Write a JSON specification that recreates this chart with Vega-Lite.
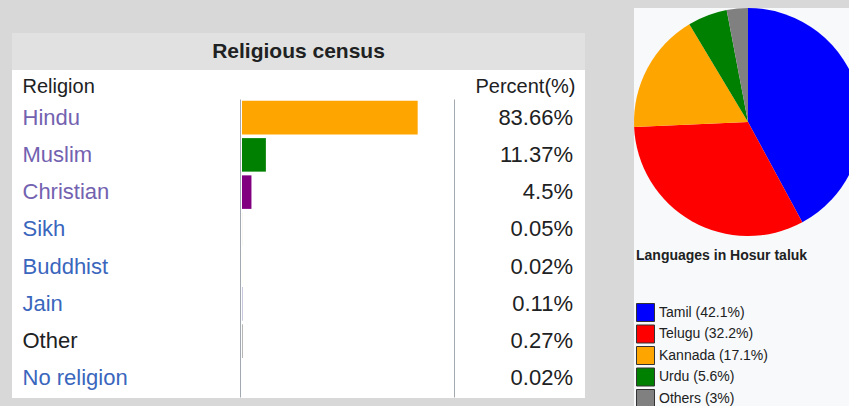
{
  "$schema": "https://vega.github.io/schema/vega-lite/v6.json",
  "background": "#d8d8d8",
  "padding": {"left": 12, "top": 8, "right": -13, "bottom": 0},
  "config": {"font": "Liberation Sans", "view": {"stroke": null}},
  "datasets": {
    "religion": [
      {"religion": "Hindu", "share": 0.8366},
      {"religion": "Muslim", "share": 0.1137},
      {"religion": "Christian", "share": 0.045},
      {"religion": "Sikh", "share": 0.0005},
      {"religion": "Buddhist", "share": 0.0002},
      {"religion": "Jain", "share": 0.0011},
      {"religion": "Other", "share": 0.0027},
      {"religion": "No religion", "share": 0.0002}
    ],
    "langs": [
      {"language": "Tamil", "pct": 42.1, "label": "Tamil (42.1%)"},
      {"language": "Telugu", "pct": 32.2, "label": "Telugu (32.2%)"},
      {"language": "Kannada", "pct": 17.1, "label": "Kannada (17.1%)"},
      {"language": "Urdu", "pct": 5.6, "label": "Urdu (5.6%)"},
      {"language": "Others", "pct": 3, "label": "Others (3%)"}
    ],
    "caption": [{"text": "Religious census"}]
  },
  "spacing": 49,
  "resolve": {
    "scale": {"color": "independent"},
    "legend": {"color": "independent"}
  },
  "hconcat": [
    {
      "vconcat": [
        {
          "width": 573,
          "height": 25,
          "data": {"values": []},
          "mark": "text"
        },
        {
          "width": 573,
          "height": 37,
          "view": {"fill": "#e1e1e1"},
          "data": {"name": "caption"},
          "mark": {"type": "text", "fontSize": 21, "fontWeight": "bold", "color": "#202122"},
          "encoding": {"text": {"field": "text"}}
        },
        {
          "width": 573,
          "height": 328,
          "view": {"fill": "#ffffff"},
          "data": {"name": "religion"},
          "layer": [
            {
              "mark": {"type": "bar"},
              "encoding": {
                "y": {
                  "field": "religion",
                  "type": "nominal",
                  "sort": null,
                  "scale": {"range": [29, 327], "paddingInner": 0.1, "paddingOuter": 0.05},
                  "axis": {
                    "orient": "left",
                    "offset": -228,
                    "grid": false,
                    "domainColor": "#a2a9b1",
                    "domainWidth": 1,
                    "ticks": false,
                    "tickSize": 0,
                    "labelPadding": 218,
                    "labelAlign": "left",
                    "labelBaseline": "middle",
                    "labelFontSize": 22,
                    "labelLimit": 0,
                    "labelColor": {"expr": "datum.value == 'Other' ? '#202122' : (indexof(['Hindu','Muslim','Christian'], datum.value) >= 0 ? '#7362b0' : '#3a66bd')"},
                    "title": "Religion",
                    "titleAngle": 0,
                    "titleAlign": "left",
                    "titleBaseline": "middle",
                    "titleX": -218,
                    "titleY": 16,
                    "titleFontSize": 20,
                    "titleFontWeight": "normal",
                    "titleColor": "#202122"
                  }
                },
                "x": {
                  "field": "share",
                  "type": "quantitative",
                  "scale": {"domain": [0, 1], "range": [230, 440]},
                  "axis": null
                },
                "color": {
                  "field": "religion",
                  "type": "nominal",
                  "sort": null,
                  "scale": {"range": ["#ffa500", "#008000", "#800080", "#bdb76b", "#ffd700", "#191970", "#808080", "#ffffff"]},
                  "legend": null
                }
              }
            },
            {
              "mark": {"type": "text", "align": "right", "baseline": "middle", "dx": -12, "fontSize": 22, "color": "#202122"},
              "encoding": {
                "y": {
                  "field": "religion",
                  "type": "nominal",
                  "sort": null,
                  "axis": {
                    "orient": "right",
                    "offset": -131,
                    "grid": false,
                    "domainColor": "#a2a9b1",
                    "domainWidth": 1,
                    "ticks": false,
                    "labels": false,
                    "title": "Percent(%)",
                    "titleAngle": 0,
                    "titleAlign": "right",
                    "titleBaseline": "middle",
                    "titleX": 121,
                    "titleY": 16,
                    "titleFontSize": 20,
                    "titleFontWeight": "normal",
                    "titleColor": "#202122"
                  }
                },
                "x": {"value": "width"},
                "text": {"field": "share", "type": "quantitative", "format": "~%"}
              }
            }
          ],
          "resolve": {"axis": {"y": "independent"}}
        }
      ],
      "spacing": 0,
      "bounds": "flush"
    },
    {
      "vconcat": [
        {
          "width": 228,
          "height": 228,
          "view": {"fill": "#f8f9fa"},
          "data": {"name": "langs"},
          "mark": {"type": "arc", "outerRadius": 114},
          "encoding": {
            "theta": {"field": "pct", "type": "quantitative", "stack": true},
            "order": {"field": "pct", "sort": "descending"},
            "color": {
              "field": "language",
              "type": "nominal",
              "sort": null,
              "scale": {"range": ["#0000ff", "#ff0000", "#ffa500", "#008000", "#808080"]},
              "legend": null
            }
          }
        },
        {
          "width": 228,
          "height": 170,
          "view": {"fill": "#f8f9fa"},
          "data": {"name": "langs"},
          "mark": {"type": "square", "opacity": 0},
          "encoding": {
            "color": {
              "field": "label",
              "type": "nominal",
              "sort": null,
              "scale": {"range": ["#0000ff", "#ff0000", "#ffa500", "#008000", "#808080"]},
              "legend": {
                "orient": "none",
                "legendX": 2,
                "legendY": 13,
                "direction": "vertical",
                "padding": 0,
                "title": "Languages in Hosur taluk",
                "titleFontSize": 14,
                "titleFontWeight": "bold",
                "titleColor": "#202122",
                "titleBaseline": "top",
                "titlePadding": 40,
                "titleLimit": 400,
                "symbolType": "square",
                "symbolSize": 324,
                "symbolOpacity": 1,
                "symbolStrokeColor": "#333333",
                "symbolStrokeWidth": 1,
                "labelFontSize": 14,
                "labelColor": "#202122",
                "labelOffset": 4,
                "rowPadding": -1.5
              }
            }
          }
        }
      ],
      "spacing": 0,
      "bounds": "flush",
      "resolve": {
        "scale": {"color": "independent"},
        "legend": {"color": "independent"}
      }
    }
  ]
}
